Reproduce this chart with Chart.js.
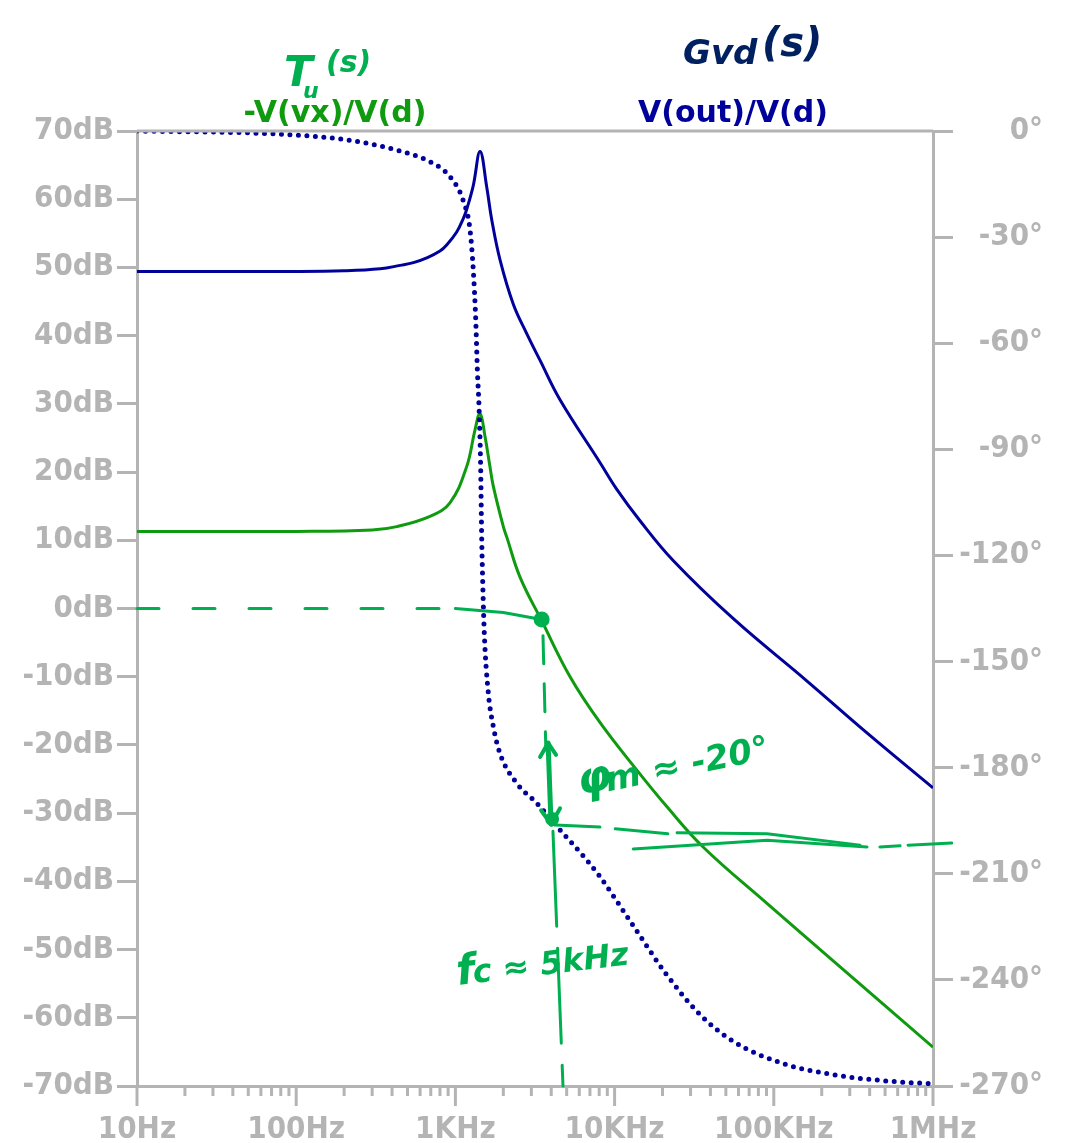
<!DOCTYPE html>
<html>
<head>
<meta charset="utf-8">
<script src="https://cdn.jsdelivr.net/npm/chart.js@4.4.1/dist/chart.umd.min.js"></script>
<style>
body { margin: 0; background: #fff; }
#wrap { width: 1073px; height: 1143px; }
</style>
</head>
<body>
<div id="wrap"><canvas id="bode"></canvas></div>
<script>
// Gvd(s) = V(out)/V(d), magnitude (dB)
var gvdFreq = [10, 100, 200, 337, 449, 545, 661, 800, 881, 1019, 1122, 1177, 1295, 1429, 1573, 1691, 1907, 2311, 2806, 3398, 4540, 8090, 10300, 14400, 23400, 55700, 161000, 383000, 1000000]
var gvdDb = [49.4, 49.4, 49.5, 49.8, 50.3, 50.7, 51.4, 52.4, 53.3, 55.2, 57.2, 58.5, 62.0, 67.0, 61.8, 57.0, 51.1, 44.6, 40.3, 36.4, 30.6, 21.4, 17.5, 12.9, 7.0, -1.5, -10.6, -18.2, -26.3]
// Tu(s) = -V(vx)/V(d), magnitude (dB)
var tuFreq = [10, 100, 300, 428, 692, 924, 1177, 1328, 1429, 1535, 1648, 1731, 2000, 2100, 2546, 3485, 5250, 8090, 13800, 21200, 36100, 90200, 237000, 1000000]
var tuDb = [11.3, 11.3, 11.5, 12.0, 13.5, 15.5, 20.8, 26.2, 28.6, 25.2, 20.8, 17.9, 12.0, 10.5, 4.6, -1.8, -10.0, -16.7, -23.7, -29.0, -35.0, -43.2, -51.7, -64.3]
// phase (deg), both traces share it
var phaseFreq = [10, 79, 207, 428, 692, 924, 1122, 1236, 1295, 1342, 1374, 1410, 1442, 1461, 1476, 1519, 1611, 1731, 1907, 2427, 3242, 4540, 6683, 8090, 13100, 21200, 34400, 55700, 115000, 237000, 488000, 1000000]
var phaseDeg = [0, -0.9, -2.5, -5.4, -8.7, -12.9, -19.8, -28, -39.3, -53.4, -67.6, -79, -95.8, -113.7, -123, -142, -159, -168.4, -176, -184.4, -190, -197.6, -206.1, -210.8, -224.7, -238.5, -249.8, -257.4, -263.7, -266.8, -268.5, -269.4]

var freqNames = {10: "10Hz", 100: "100Hz", 1000: "1KHz", 10000: "10KHz", 100000: "100KHz", 1000000: "1MHz"}
var xTickVals = []
for (var d = 10; d < 1000000; d *= 10) {
    for (var m = 1; m < 10; m++) xTickVals.push(d * m)
}
xTickVals.push(1000000)

// hand drawn notes, points given as [freq, value, axis]
var zeroDash = [[10, 0, "y"], [1000, 0, "y"]]
var zeroSolid = [[1000, 0, "y"], [2000, -0.6, "y"], [3480, -1.6, "y"]]
var crossDot = [3480, -1.6, "y"]
var fcDashTop = [[3550, -4, "y"], [3700, -175, "y1"]]
var pmArrow = [[3820, -173, "y1"], [3990, -196, "y1"]]
var pmDot = [4050, -194.5, "y1"]
var fcDashLow = [[4100, -198, "y1"], [4740, -70, "y"]]
var pmStrokes = [
    [[4230, -196.2, "y1"], [8090, -196.8, "y1"]],
    [[10100, -197.3, "y1"], [21600, -198.7, "y1"]],
    [[13100, -203, "y1"], [90600, -200.5, "y1"], [385000, -202.4, "y1"]],
    [[24700, -198.4, "y1"], [90600, -198.7, "y1"], [348000, -201.9, "y1"]],
    [[464000, -202.4, "y1"], [621000, -202.1, "y1"]],
    [[697000, -201.9, "y1"], [1310000, -201.3, "y1"]]
]

var axisGray = "#b4b4b4"
var navy = "#00009b"
var green = "#0f9a0f"
var penGreen = "#00b050"
var penNavy = "#002060"
var tickFont = { family: "'DejaVu Sans Condensed', 'Liberation Sans', sans-serif", size: 31, weight: "bold" }
var penFont = "'DejaVu Sans', sans-serif"

function toXY(fs, vs) {
    return fs.map((f, i) => ({ x: f, y: vs[i] }))
}

const handNotes = {
    id: "handNotes",
    afterDraw(chart) {
        const ctx = chart.ctx, a = chart.chartArea, sx = chart.scales.x
        const P = (p) => [sx.getPixelForValue(p[0]), chart.scales[p[2]].getPixelForValue(p[1])]
        function poly(pts, w, dash) {
            ctx.lineWidth = w
            ctx.setLineDash(dash || [])
            ctx.beginPath()
            pts.forEach((p, i) => { const q = P(p); i ? ctx.lineTo(q[0], q[1]) : ctx.moveTo(q[0], q[1]) })
            ctx.stroke()
            ctx.setLineDash([])
        }
        function dot(p, r) {
            const q = P(p)
            ctx.beginPath(); ctx.arc(q[0], q[1], r, 0, Math.PI * 2); ctx.fill()
        }
        ctx.save()
        // frame top + x tick marks
        ctx.strokeStyle = axisGray
        ctx.lineWidth = 3
        ctx.beginPath(); ctx.moveTo(a.left, a.top); ctx.lineTo(a.right, a.top); ctx.stroke()
        xTickVals.forEach(v => {
            const x = sx.getPixelForValue(v)
            const major = Math.abs(Math.log10(v) - Math.round(Math.log10(v))) < 1e-9
            ctx.beginPath(); ctx.moveTo(x, a.bottom); ctx.lineTo(x, a.bottom + (major ? 20 : 10)); ctx.stroke()
        })
        // trace names
        ctx.font = "bold 30px 'DejaVu Sans', sans-serif"
        ctx.textAlign = "center"
        ctx.textBaseline = "alphabetic"
        ctx.fillStyle = green
        ctx.fillText("-V(vx)/V(d)", 335, 122)
        ctx.fillStyle = navy
        ctx.fillText("V(out)/V(d)", 733, 122)

        // pen notes
        ctx.lineCap = "round"
        ctx.lineJoin = "round"
        ctx.strokeStyle = penGreen
        ctx.fillStyle = penGreen
        poly(zeroDash, 3, [22, 34])
        poly(zeroSolid, 3)
        dot(crossDot, 8)
        poly(fcDashTop, 3, [28, 20])
        poly(pmArrow, 5)
        const t = P(pmArrow[0]), b = P(pmArrow[1])
        ctx.lineWidth = 4
        ctx.beginPath()
        ctx.moveTo(t[0] - 8, t[1] + 14); ctx.lineTo(t[0], t[1]); ctx.lineTo(t[0] + 8, t[1] + 12)
        ctx.moveTo(b[0] - 10, b[1] - 14); ctx.lineTo(b[0], b[1]); ctx.lineTo(b[0] + 9, b[1] - 16)
        ctx.stroke()
        dot(pmDot, 7)
        poly(fcDashLow, 3, [95, 22])
        pmStrokes.forEach(s => poly(s, 3))

        ctx.textAlign = "left"
        ctx.font = "bold italic 42px " + penFont
        ctx.fillText("T", 284, 86)
        ctx.font = "bold italic 22px " + penFont
        ctx.fillText("u", 303, 98)
        ctx.font = "bold italic 30px " + penFont
        ctx.fillText("(s)", 326, 72)

        ctx.save()
        ctx.translate(580, 795)
        ctx.rotate(-0.2)
        ctx.font = "bold italic 44px " + penFont
        ctx.fillText("\u03c6", 0, 0)
        ctx.font = "bold italic 34px " + penFont
        ctx.fillText("m \u2248 -20\u00b0", 28, 2)
        ctx.restore()

        ctx.save()
        ctx.translate(458, 985)
        ctx.rotate(-0.12)
        ctx.font = "bold italic 42px " + penFont
        ctx.fillText("f", 0, 0)
        ctx.font = "bold italic 32px " + penFont
        ctx.fillText("c \u2248 5kHz", 16, 0)
        ctx.restore()

        ctx.fillStyle = penNavy
        ctx.font = "bold italic 34px " + penFont
        ctx.fillText("Gvd", 683, 64)
        ctx.font = "bold italic 40px " + penFont
        ctx.fillText("(s)", 762, 56)
        ctx.restore()
    }
}

new Chart(document.getElementById("bode"), {
    type: "line",
    data: {
        datasets: [
            {
                label: "phase",
                data: toXY(phaseFreq, phaseDeg),
                yAxisID: "y1",
                borderColor: navy,
                borderWidth: 5,
                borderDash: [0, 8.5],
                borderCapStyle: "round",
                pointRadius: 0,
                cubicInterpolationMode: "monotone",
                order: 0
            },
            {
                label: "V(out)/V(d)",
                data: toXY(gvdFreq, gvdDb),
                yAxisID: "y",
                borderColor: navy,
                borderWidth: 3,
                pointRadius: 0,
                tension: 0.4,
                order: 1
            },
            {
                label: "-V(vx)/V(d)",
                data: toXY(tuFreq, tuDb),
                yAxisID: "y",
                borderColor: green,
                borderWidth: 3,
                pointRadius: 0,
                tension: 0.4,
                order: 2
            }
        ]
    },
    options: {
        responsive: true,
        maintainAspectRatio: false,
        animation: false,
        layout: { padding: { top: 131, right: 30, bottom: 0, left: 0 } },
        plugins: { legend: { display: false }, tooltip: { enabled: false } },
        scales: {
            x: {
                type: "logarithmic",
                min: 10,
                max: 1000000,
                afterBuildTicks: (s) => { s.ticks = xTickVals.map(v => ({ value: v })) },
                afterFit: (s) => { s.height = 57 },
                grid: { display: false },
                border: { display: true, color: axisGray, width: 3 },
                ticks: {
                    autoSkip: false,
                    maxRotation: 0,
                    padding: 17,
                    color: axisGray,
                    font: tickFont,
                    callback: (v) => freqNames[v] || ""
                }
            },
            y: {
                position: "left",
                min: -70,
                max: 70,
                afterFit: (s) => { s.width = 137 },
                grid: { drawOnChartArea: false, tickLength: 20, color: axisGray, lineWidth: 3 },
                border: { display: true, color: axisGray, width: 3 },
                ticks: { stepSize: 10, padding: 3, color: axisGray, font: tickFont, callback: (v) => v + "dB" }
            },
            y1: {
                position: "right",
                min: -270,
                max: 0,
                afterFit: (s) => { s.width = 110 },
                grid: { drawOnChartArea: false, tickLength: 20, color: axisGray, lineWidth: 3 },
                border: { display: true, color: axisGray, width: 3 },
                ticks: { stepSize: 30, padding: 3, crossAlign: "far", color: axisGray, font: tickFont, callback: (v) => v + "\u00b0" }
            }
        }
    },
    plugins: [handNotes]
})
</script>
</body>
</html>
